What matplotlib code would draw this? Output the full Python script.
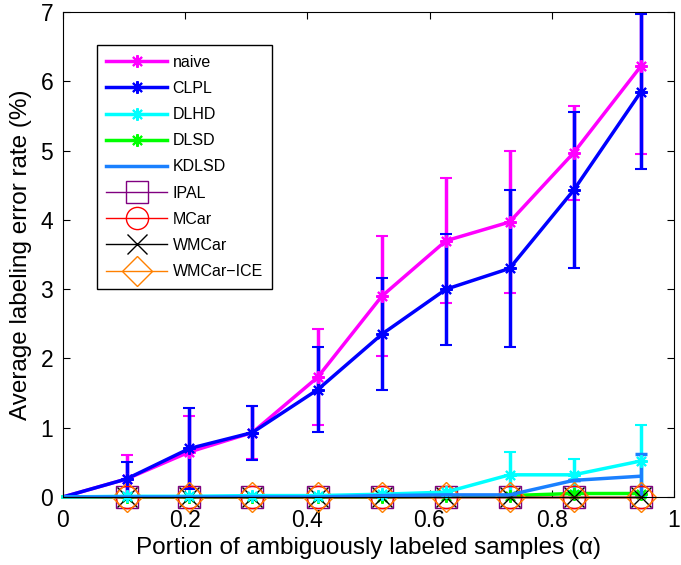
import numpy as np
import matplotlib.pyplot as plt

plt.rcParams['font.family'] = ['Liberation Sans', 'DejaVu Sans']

# portion of ambiguously labeled samples
alpha = [0, 0.104, 0.207, 0.31, 0.417, 0.522, 0.627, 0.731, 0.836, 0.946]

naive = [0, 0.26, 0.65, 0.93, 1.73, 2.90, 3.70, 3.97, 4.97, 6.22]
naive_err = [0, 0.34, 0.52, 0.38, 0.69, 0.87, 0.90, 1.03, 0.68, 1.27]
clpl = [0, 0.26, 0.70, 0.93, 1.55, 2.35, 3.00, 3.30, 4.43, 5.85]
clpl_err = [0, 0.24, 0.58, 0.39, 0.61, 0.81, 0.80, 1.13, 1.13, 1.12]
dlhd = [0, 0.01, 0.01, 0.02, 0.02, 0.04, 0.07, 0.32, 0.32, 0.52]
dlhd_err = [0, 0, 0, 0, 0, 0, 0, 0.33, 0.23, 0.52]
dlsd = [0, 0, 0, 0, 0, 0, 0.01, 0.02, 0.05, 0.05]
kdlsd = [0, 0, 0, 0, 0, 0.02, 0.03, 0.03, 0.24, 0.30]
kdlsd_err = [0, 0, 0, 0, 0, 0, 0, 0, 0, 0.32]
ipal = [0] * 10
mcar = [0] * 10
wmcar = [0] * 10
wmcar_ice = [0] * 10

names = ['naive', 'CLPL', 'DLHD', 'DLSD', 'KDLSD', 'IPAL', 'MCar', 'WMCar', 'WMCar\u2212ICE']

asterisk = (8, 2, 0)
mk = list(range(1, 10))

fig = plt.figure(figsize=(6.81, 5.65), dpi=100)
ax = fig.add_axes([0.0925, 0.1204, 0.897, 0.858])

eb = dict(capsize=4, elinewidth=2.5, capthick=2.5)
star = dict(marker=asterisk, ms=9, mew=1.5, markevery=mk)
handles = []
c = ax.errorbar(alpha, naive, yerr=naive_err, color='#ff00ff', lw=2.5, **star, **eb)
handles.append(c[0])
c = ax.errorbar(alpha, clpl, yerr=clpl_err, color='#0000ff', lw=2.5, **star, **eb)
handles.append(c[0])
c = ax.errorbar(alpha, dlhd, yerr=dlhd_err, color='#00ffff', lw=2.5, **star, **eb)
c[0].set_clip_on(False)
handles.append(c[0])
l, = ax.plot(alpha, dlsd, color='#00ff00', lw=2.5, clip_on=False, **star)
handles.append(l)
c = ax.errorbar(alpha, kdlsd, yerr=kdlsd_err, color='#1a80ff', lw=2.5, **eb)
handles.append(c[0])
l, = ax.plot(alpha, ipal, color='#800080', lw=1, marker='s', ms=16, mfc='none',
             markevery=mk, clip_on=False)
handles.append(l)
l, = ax.plot(alpha, mcar, color='#ff0000', lw=1, marker='o', ms=16, mfc='none',
             markevery=mk, clip_on=False)
handles.append(l)
l, = ax.plot(alpha, wmcar, color='black', lw=1, marker='x', ms=14, markevery=mk,
             clip_on=False)
handles.append(l)
l, = ax.plot(alpha, wmcar_ice, color='#ff8000', lw=1, marker='D', ms=15, mfc='none',
             markevery=mk, clip_on=False)
handles.append(l)

ax.set_xlim(0, 1)
ax.set_ylim(0, 7)
ax.set_xticks([0, 0.2, 0.4, 0.6, 0.8, 1])
ax.set_xticklabels(['0', '0.2', '0.4', '0.6', '0.8', '1'])
ax.set_yticks(range(8))
ax.tick_params(direction='in', top=True, right=True, labelsize=16.5, length=5)
ax.tick_params(axis='x', pad=9)
ax.tick_params(axis='y', pad=7)
ax.set_xlabel('Portion of ambiguously labeled samples (\u03b1)', fontsize=17.5, labelpad=3)
ax.set_ylabel('Average labeling error rate (%)', fontsize=17.5, labelpad=6)

leg = ax.legend(handles, names, loc='upper left', bbox_to_anchor=(0.055, 0.932),
                borderaxespad=0, fontsize=11.5, handlelength=3.8, handletextpad=0.35,
                fancybox=False, edgecolor='black', framealpha=1, labelspacing=0.7,
                borderpad=0.6)
leg.get_frame().set_linewidth(1)
leg.set_zorder(5)

fig.savefig('out.png', dpi=100)
